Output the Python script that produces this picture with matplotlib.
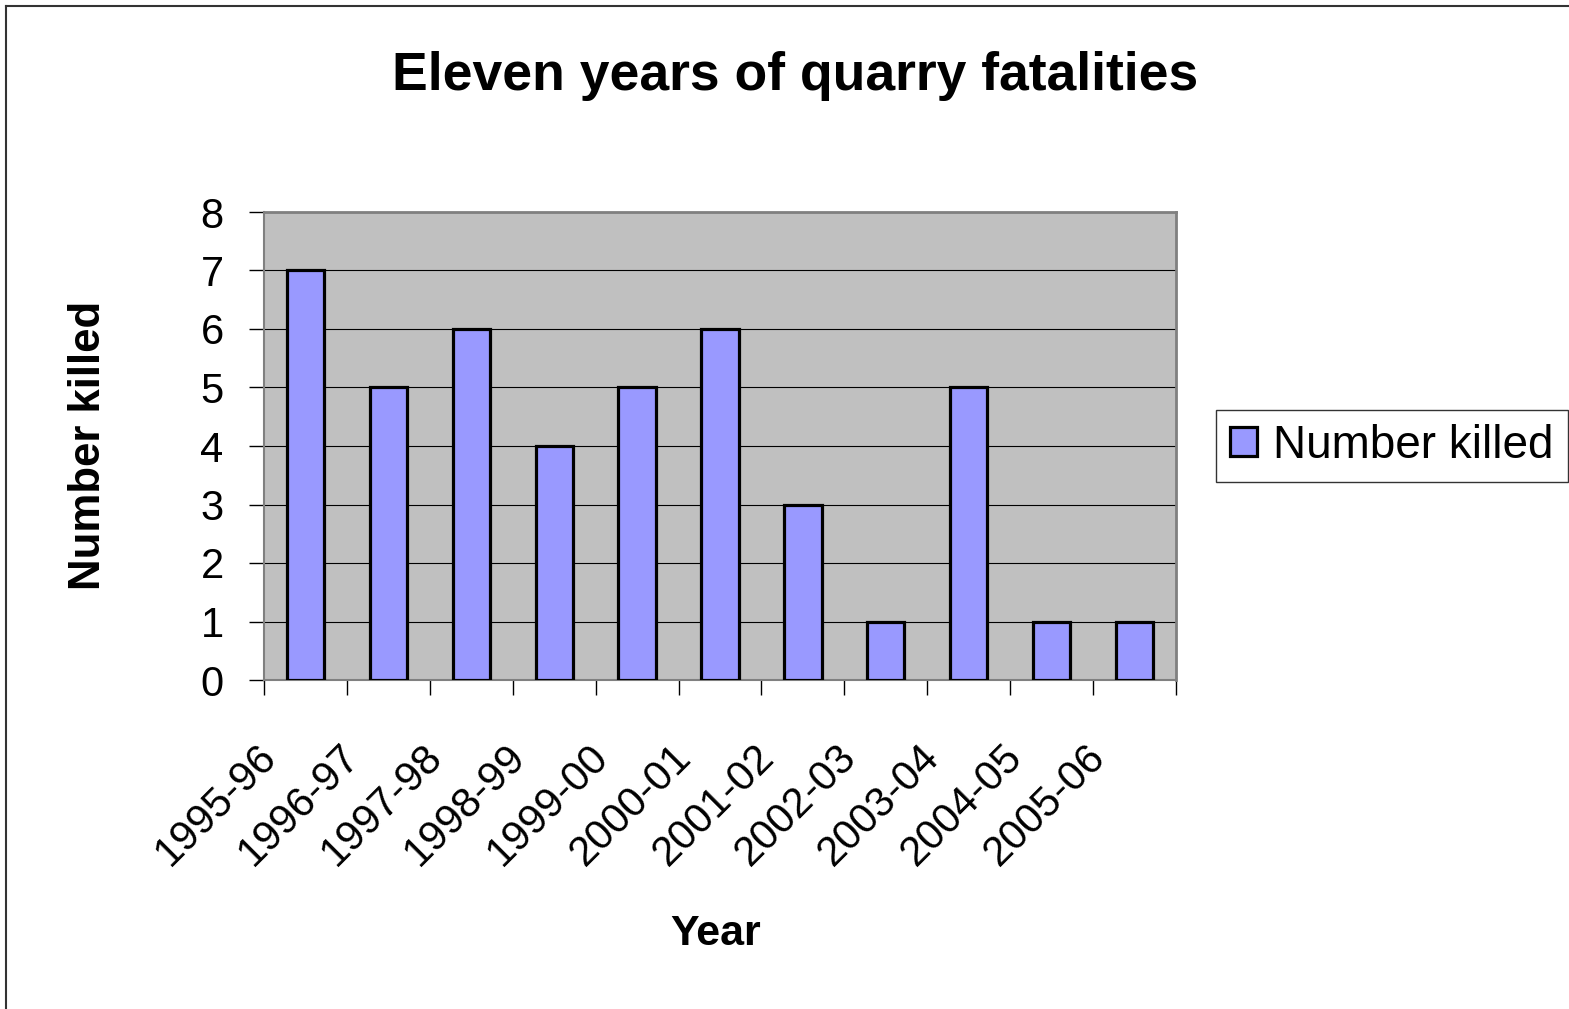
import matplotlib
matplotlib.use("Agg")
import matplotlib.pyplot as plt
import matplotlib.transforms as mtransforms
from matplotlib.lines import Line2D
from matplotlib.patches import Patch
import numpy as np

plt.rcParams['font.family'] = ['Liberation Sans', 'DejaVu Sans']

years = ["1995-96", "1996-97", "1997-98", "1998-99", "1999-00", "2000-01",
         "2001-02", "2002-03", "2003-04", "2004-05", "2005-06"]
killed = [7, 5, 6, 4, 5, 6, 3, 1, 5, 1, 1]
yticks = [0, 1, 2, 3, 4, 5, 6, 7, 8]

W, H = 1569, 1009
fig = plt.figure(figsize=(W / 100, H / 100), dpi=100)
fig.patch.set_facecolor('white')

ax = fig.add_axes([264 / W, 1 - 680 / H, (1176 - 264) / W, (680 - 212) / H])
ax.set_facecolor('#C0C0C0')

x = np.arange(len(years))
ax.bar(x, killed, width=0.45, color='#9999FF', edgecolor='black', linewidth=2.3, zorder=3)

ax.set_xlim(-0.5, len(years) - 0.5)
ax.set_ylim(0, 8)
ax.set_yticks(yticks)
ax.set_yticklabels([str(v) for v in yticks], fontsize=30)
ax.yaxis.grid(True, color='black', linewidth=0.8, zorder=1)
ax.set_axisbelow(True)

# category boundary ticks
ax.set_xticks(np.arange(-0.5, len(years), 1.0), minor=True)
ax.set_xticks(x)
ax.set_xticklabels(years, fontsize=30, rotation=45, ha='right', va='top')
ax.tick_params(axis='x', which='major', length=0, pad=0)
ax.tick_params(axis='x', which='minor', length=11, width=1, color='black', direction='out')
ax.tick_params(axis='y', length=11, width=1, color='black', direction='out', pad=18)
offset = mtransforms.ScaledTranslation(-21 / 100, -57 / 100, fig.dpi_scale_trans)
for lab in ax.get_xticklabels():
    lab.set_transform(lab.get_transform() + offset)

for s in ['top', 'right']:
    ax.spines[s].set_color('#808080')
    ax.spines[s].set_linewidth(2)
ax.spines['left'].set_color('#808080')
ax.spines['left'].set_linewidth(1.5)
ax.spines['bottom'].set_color('#808080')
ax.spines['bottom'].set_linewidth(1.5)

fig.text(795 / W, 1 - 90 / H, "Eleven years of quarry fatalities", fontsize=38.5,
         fontweight='bold', ha='center', va='baseline')
fig.text(88 / W, 1 - 445 / H, "Number killed", fontsize=31.5, fontweight='bold',
         rotation=90, ha='center', va='center')
fig.text(716 / W, 1 - 945 / H, "Year", fontsize=31, fontweight='bold',
         ha='center', va='baseline')

handle = Patch(facecolor='#9999FF', edgecolor='black', linewidth=2.3)
leg = fig.legend([handle], ["Number killed"], loc='center left',
                 bbox_to_anchor=(1216 / W, 1 - 446 / H), fontsize=33,
                 frameon=True, fancybox=False, handlelength=0.6, handleheight=0.6,
                 handletextpad=0.35, borderpad=0.3, borderaxespad=0)
leg.get_frame().set_edgecolor('black')
leg.get_frame().set_linewidth(1)

# outer chart border (top and left)
fig.add_artist(Line2D([6 / W, 1], [1 - 6 / H, 1 - 6 / H], transform=fig.transFigure,
                      color='#333333', linewidth=1.5))
fig.add_artist(Line2D([6 / W, 6 / W], [1 - 6 / H, 0], transform=fig.transFigure,
                      color='#333333', linewidth=1.5))

fig.savefig("out.png", dpi=100)
